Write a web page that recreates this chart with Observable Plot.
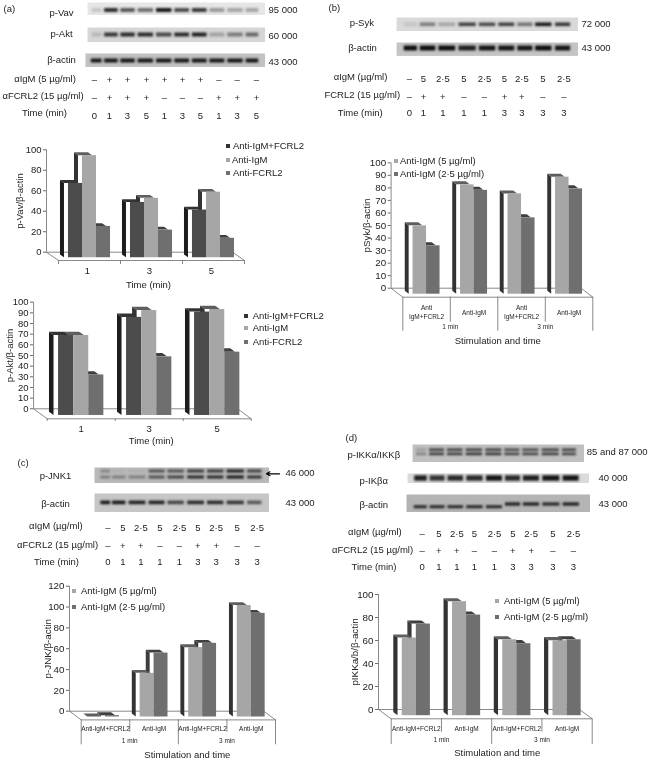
<!DOCTYPE html>
<html><head><meta charset="utf-8">
<script src="https://cdn.jsdelivr.net/npm/d3@7"></script>
<script src="https://cdn.jsdelivr.net/npm/@observablehq/plot@0.6"></script>
<style>
html,body{margin:0;padding:0;background:#fff}
#page{position:relative;width:648px;height:759px;overflow:hidden;font-family:"Liberation Sans",Arial,sans-serif;color:#222}
#page svg{position:absolute;display:block;max-width:none;filter:blur(.3px)}
.lg{position:absolute;font-size:9.5px;line-height:12px;white-space:nowrap;filter:blur(.3px)}
.sq{position:absolute;width:4px;height:4px}
</style></head><body><div id="page"></div>
<script>
// ---------- chart values ----------
const timeCats = ["1","3","5"];
const stimCats = ["Anti-IgM+FCRL2","Anti-IgM","Anti-IgM+FCRL2","Anti-IgM"];
const stimCatsB = ["Anti\nIgM+FCRL2","Anti-IgM","Anti\nIgM+FCRL2","Anti-IgM"];
const minutes = ["1 min","3 min"];
const vavCombo = [72.6,54,46.6], vavIgM = [99.7,58,64], vavFcrl2 = [30.6,27,19];
const aktCombo = [75,92,97], aktIgM = [75,98.4,99.4], aktFcrl2 = [38,55,59.4];
const sykHigh = [54.5,87.2,80,93.3], sykLow = [38.6,82.8,60.9,84];
const jnkHigh = [0,41.9,66.6,107], jnkLow = [1.3,61.4,70.7,99.5];
const ikkHigh = [67.5,99.1,66,65.2], ikkLow = [79.7,87.5,62.6,66];

// ---------- blot band strengths ----------
const vavBand = [.15,.85,.65,.55,.95,.7,.8,.35,.3,.3];
const aktBand = [.15,.8,.85,.85,.7,.85,.9,.25,.45,.55];
const actinA = [.95,.95,.95,.95,.95,.95,.95,.95,.95,.95];
const sykBand = [.1,.45,.25,.75,.7,.75,.5,.95,.8];
const actinB = [1,1,1,.9,.95,.95,.95,1,.95];
const jnkLower = [.35,.35,.35,.6,.7,.85,.85,.95,.8];
const jnkUpper = [.3,.05,.05,.6,.6,.75,.75,.9,.7];
const actinC = [.95,.95,.9,.9,.7,.85,.85,.8,.6];
const ikkUpper = [.2,.7,.7,.7,.7,.65,.65,.7,.7];
const ikkLower = [.35,.75,.75,.8,.8,.7,.7,.75,.7];
const ikbBand = [.9,.8,.85,.85,.95,.85,.9,.95,.95];
const actinD1 = [.85,.85,.85,.85,.85,0,0,0,0];
const actinD2 = [0,0,0,0,0,.9,.9,.85,.9];

// ---------- treatment rows ----------
const igmA = ["–","+","+","+","+","+","+","–","–","–"];
const fcrlA = ["–","+","+","+","–","–","–","+","+","+"];
const timeA = ["0","1","3","5","1","3","5","1","3","5"];
const igmDose = ["–","5","2·5","5","2·5","5","2·5","5","2·5"];
const fcrlDose = ["–","+","+","–","–","+","+","–","–"];
const timeDose = ["0","1","1","1","1","3","3","3","3"];

const page = document.getElementById("page");
const style = {background:"transparent",fontFamily:"Liberation Sans, Arial, sans-serif",fontSize:"9.5px",color:"#222"};
function place(node,left,top){node.style.left=left+"px";node.style.top=top+"px";page.appendChild(node);}

function gel(g){
  const w=g.x2-g.x1,h=g.y2-g.y1,n=g.lanes.length;
  const cells=g.bands.flatMap(b=>b.values.map((v,i)=>({lane:i,y:b.y,t:b.t,v})));
  place(Plot.plot({width:w,height:h,margin:0,style,
    x:{axis:null,type:"linear",domain:[-1,...d3.range(n),n],range:[0,...g.lanes.map(l=>l-g.x1),w]},
    y:{axis:null,domain:[g.y1,g.y2],range:[0,h]},
    opacity:{type:"identity"},
    marks:[Plot.frame({fill:g.fill,stroke:"none"}),
      Plot.rect(cells,{x1:d=>d.lane-.42,x2:d=>d.lane+.42,y1:d=>d.y-d.t/2,y2:d=>d.y+d.t/2,fill:"#0c0c0c",fillOpacity:"v",imageFilter:"blur(1.1px)"})]
  }),g.x1,g.y1);
}

function labels(p){
  const [l,t,w,h]=p.box;
  const row=(vals,y)=>vals.map((s,i)=>({x:p.lanes[i],y,s}));
  const cells=p.rows.flatMap(r=>row(r.values,r.y));
  const mid=p.notes.filter(d=>d.a!=="start"),st=p.notes.filter(d=>d.a==="start");
  place(Plot.plot({width:w,height:h,margin:0,style,
    x:{axis:null,domain:[l,l+w],range:[0,w]},y:{axis:null,domain:[t,t+h],range:[0,h]},
    marks:[
      Plot.text(cells,{x:"x",y:"y",text:"s",fontSize:9.5,fill:"#222"}),
      Plot.text(mid,{x:"x",y:"y",text:"s",fontSize:9.5,fill:"#222"}),
      Plot.text(st,{x:"x",y:"y",text:"s",textAnchor:"start",fontSize:9.5,fill:"#222"}),
      ...(p.arrow?[Plot.arrow([p.arrow],{x1:"x1",y1:"y",x2:"x2",y2:"y",bend:0,headLength:5,stroke:"#000",strokeWidth:1.2})]:[])
    ]}),l,t);
}

const tone={
  dark:{front:"#4c4c4c",side:"#1d1d1d",cap:"#333"},
  light:{front:"#a6a6a6",side:"#333",cap:"#5e5e5e"},
  mid:{front:"#6f6f6f",side:"#3c3c3c",cap:"#3f3f3f"}
};

function chart(c){
  const [l,t,w,h]=c.box, n=c.series[0].values.length, k=c.series.length;
  const [x0,x1]=c.front;
  const ux=d=>d*n/(x1-x0), uy=d=>d*c.max/(c.y0-c.yTop);
  const at=(y)=>(c.y0-y)*c.max/(c.y0-c.yTop);            // page row → value units
  const dx=d=>ux(c.fx*(d-1)), dy=d=>uy(c.fy*d);
  const m=(1-k*c.bar)/2, d1=1/3, d2=2/3;
  const bars=c.series.flatMap((s,si)=>s.values.map((v,g)=>({id:si+"-"+g,v,u1:g+m+si*c.bar,u2:g+m+(si+1)*c.bar,...tone[s.tone]})));
  const side=bars.flatMap(b=>[d1,d2].map(d=>({id:b.id,f:b.side,x:b.u1+dx(d),y1:-dy(d),y2:b.v-dy(d)})));
  const cap=bars.flatMap(b=>[d1,d2].map(d=>({id:b.id,f:b.cap,y:b.v-dy(d),x1:b.u1+dx(d),x2:b.u2+dx(d)})));
  const floor=[[dx(0),0],[0,-dy(1)],[n,-dy(1)],[n+dx(0),0],[dx(0),0]].map(([x,y])=>({x,y}));
  const axisU=dx(0);
  const lineC="#6b6b6b";
  const marks=[
    Plot.line(floor,{x:"x",y:"y",stroke:lineC,strokeWidth:.8}),
    Plot.ruleX([axisU],{y1:0,y2:c.max,stroke:lineC,strokeWidth:.8}),
    Plot.axisY(c.ticks,{anchor:"left",tickSize:3,tickPadding:2,fontSize:c.tickFont||9.5,stroke:lineC,fill:"#222",label:c.title,labelAnchor:"center",labelArrow:"none",labelOffset:c.titleOffset}),
    Plot.areaY(side,{x:"x",y1:"y1",y2:"y2",z:"id",fill:"f"}),
    Plot.areaX(cap,{y:"y",x1:"x1",x2:"x2",z:"id",fill:"f"}),
    Plot.rect(bars,{x1:"u1",x2:"u2",y1:d=>-dy(d2)*1,y2:d=>d.v-dy(d2),fill:"front",inset:0})
  ];
  // category axis
  if(c.cats){
    const ticks=d3.range(n+1);
    marks.push(Plot.ruleX(ticks,{y1:-dy(1),y2:at(c.tickEnd),stroke:lineC,strokeWidth:.8}));
    marks.push(Plot.text(c.cats.map((s,i)=>({s,i})),{x:d=>d.i+.5,y:at(c.catY),text:"s",fontSize:9.5,dx:c.catDx||0,fill:"#222"}));
  }
  if(c.stim){
    marks.push(Plot.ruleX(d3.range(0,n+1,2),{y1:-dy(1),y2:at(c.stim.outerEnd),stroke:lineC,strokeWidth:.8}));
    marks.push(Plot.ruleX(d3.range(1,n+1,2),{y1:-dy(1),y2:at(c.stim.innerEnd),stroke:lineC,strokeWidth:.8}));
    marks.push(Plot.text(c.stim.labels.map((s,i)=>({s,i})),{x:d=>d.i+.5,y:at(c.stim.y),text:"s",fontSize:c.stim.size,lineHeight:1.45,fill:"#222"}));
    marks.push(Plot.text(minutes.map((s,i)=>({s,i})),{x:d=>d.i*2+1,y:at(c.stim.minY),text:"s",fontSize:6.5,fill:"#222"}));
  }
  marks.push(Plot.text([c.xTitle],{x:(x1-x0+c.xTitleDx)/(x1-x0)*n/2,y:at(c.xTitleY),text:d=>d,fontSize:9.5,fill:"#222"}));
  place(Plot.plot({width:w,height:h,style,
    marginLeft:c.xBack-l,marginRight:0,marginTop:c.yTop-t,marginBottom:t+h-c.y0,
    x:{axis:null,domain:[0,n],range:[x0-l,x1-l]},
    y:{axis:null,domain:[0,c.max],range:[c.y0-t,c.yTop-t]},
    color:{type:"identity"},marks}),l,t);
  c.legend.forEach(d=>{
    const sq=document.createElement("div");sq.className="sq";sq.style.left=d.sq+"px";sq.style.top=(d.y-2)+"px";sq.style.background=tone[d.tone].front==="#4c4c4c"?"#333":tone[d.tone].front;page.appendChild(sq);
    const tx=document.createElement("div");tx.className="lg";tx.style.left=d.x+"px";tx.style.top=(d.y-6)+"px";tx.textContent=d.s;page.appendChild(tx);
  });
}

// ---------- panel (a) ----------
const lanesA=[95,110.7,127.3,145,164,181.7,199.3,216.7,235,253.3];
gel({x1:87,x2:265,y1:2,y2:15,fill:"#e6e6e6",lanes:lanesA,bands:[{y:10,t:4,values:vavBand}]});
gel({x1:87,x2:265,y1:27,y2:42,fill:"#d6d6d6",lanes:lanesA,bands:[{y:34.5,t:4,values:aktBand}]});
gel({x1:85,x2:265,y1:53,y2:67,fill:"#c2c2c2",lanes:lanesA,bands:[{y:60.5,t:4,values:actinA}]});
labels({box:[0,0,324,124],lanes:[94,109,127,146,164,182,200,218.3,236.7,256],
  rows:[{values:igmA,y:79},{values:fcrlA,y:97},{values:timeA,y:115}],
  notes:[{s:"(a)",x:3,y:8,a:"start"},{s:"p-Vav",x:61,y:12},{s:"p-Akt",x:61,y:33},{s:"β-actin",x:61,y:59},
    {s:"95 000",x:268,y:9,a:"start"},{s:"60 000",x:268,y:35,a:"start"},{s:"43 000",x:268,y:61,a:"start"},
    {s:"αIgM (5 µg/ml)",x:44.5,y:78},{s:"αFCRL2 (15 µg/ml)",x:42.5,y:95},{s:"Time (min)",x:44,y:112}]});
chart({box:[0,130,324,160],front:[58,244],xBack:46,y0:251.7,yTop:149.3,max:100,ticks:[0,20,40,60,80,100],fx:12,fy:8.3,bar:.226,
  series:[{values:vavCombo,tone:"dark"},{values:vavIgM,tone:"light"},{values:vavFcrl2,tone:"mid"}],
  title:"p-Vav/β-actin",titleOffset:30,cats:timeCats,catY:270,catDx:-2,tickEnd:264,xTitle:"Time (min)",xTitleY:284,xTitleDx:-6,
  legend:[{sq:226,x:233,y:146,s:"Anti-IgM+FCRL2",tone:"dark"},{sq:226,x:232,y:160,s:"Anti-IgM",tone:"light"},{sq:226,x:233,y:173,s:"Anti-FCRL2",tone:"mid"}]});
chart({box:[0,292,324,158],front:[46.7,250.7],xBack:33,y0:408.3,yTop:301.7,max:100,ticks:d3.range(0,101,10),fx:13.6,fy:10,bar:.222,
  series:[{values:aktCombo,tone:"dark"},{values:aktIgM,tone:"light"},{values:aktFcrl2,tone:"mid"}],
  title:"p-Akt/β-actin",titleOffset:27,cats:timeCats,catY:428,catDx:0,tickEnd:421,xTitle:"Time (min)",xTitleY:440,xTitleDx:4,
  legend:[{sq:244,x:252.7,y:316,s:"Anti-IgM+FCRL2",tone:"dark"},{sq:244,x:252.7,y:328,s:"Anti-IgM",tone:"light"},{sq:244,x:252.7,y:342,s:"Anti-FCRL2",tone:"mid"}]});

// ---------- panel (b) ----------
const lanesB=[409,427,446,467,487,506,525,542,564];
gel({x1:395.7,x2:578,y1:16.7,y2:30.7,fill:"#d9d9d9",lanes:lanesB,bands:[{y:24,t:3.6,values:sykBand}]});
gel({x1:395.7,x2:578,y1:42.3,y2:55.7,fill:"#c4c4c4",lanes:lanesB,bands:[{y:48.3,t:5,values:actinB}]});
labels({box:[324,0,324,124],lanes:[409,423,442.3,463.3,484,504,521.3,542.3,563.3],
  rows:[{values:igmDose,y:78},{values:fcrlDose,y:96},{values:timeDose,y:112}],
  notes:[{s:"(b)",x:328,y:7,a:"start"},{s:"p-Syk",x:361.3,y:22},{s:"β-actin",x:362,y:47},
    {s:"72 000",x:581,y:23,a:"start"},{s:"43 000",x:581,y:47,a:"start"},
    {s:"αIgM (µg/ml)",x:360,y:76},{s:"αFCRL2 (15 µg/ml)",x:359,y:94},{s:"Time (min)",x:359.7,y:112}]});
chart({box:[324,150,324,200],front:[402.3,592.3],xBack:390.7,y0:287.7,yTop:162.3,max:100,ticks:d3.range(0,101,10),fx:11.7,fy:9,bar:.284,tickFont:9.8,
  series:[{values:sykHigh,tone:"light"},{values:sykLow,tone:"mid"}],
  title:"pSyk/β-actin",titleOffset:27.7,xTitle:"Stimulation and time",xTitleY:340,xTitleDx:-0,
  stim:{labels:stimCatsB,size:6.5,y:311,minY:326,outerEnd:330.7,innerEnd:321.7},
  legend:[{sq:394,x:400,y:160.7,s:"Anti-IgM (5 µg/ml)",tone:"light"},{sq:394,x:400,y:174,s:"Anti-IgM (2·5 µg/ml)",tone:"mid"}]});

// ---------- panel (c) ----------
const lanesC=[105,117,137,157,175,196,215,235,256];
gel({x1:94,x2:269,y1:466.7,y2:482.7,fill:"#b9b9b9",lanes:lanesC,bands:[{y:476.7,t:3,values:jnkLower},{y:470.7,t:3,values:jnkUpper}]});
gel({x1:94,x2:269,y1:493.3,y2:512,fill:"#c6c6c6",lanes:lanesC,bands:[{y:502.7,t:3.6,values:actinC}]});
labels({box:[0,452,324,118],lanes:[107.3,122.3,140.3,159.3,179,197.3,215.7,236.7,256.7],
  rows:[{values:igmDose,y:527.3},{values:fcrlDose,y:545.7},{values:timeDose,y:561.7}],
  arrow:{x1:279,x2:266,y:473.3},
  notes:[{s:"(c)",x:17,y:462.7,a:"start"},{s:"p-JNK1",x:55,y:475},{s:"β-actin",x:55,y:503},
    {s:"46 000",x:285,y:472.7,a:"start"},{s:"43 000",x:285,y:502.7,a:"start"},
    {s:"αIgM (µg/ml)",x:55.3,y:525},{s:"αFCRL2 (15 µg/ml)",x:57,y:544},{s:"Time (min)",x:56,y:561.7}]});
chart({box:[0,575,324,184],front:[80.7,275],xBack:69,y0:710.7,yTop:585.7,max:120,ticks:d3.range(0,121,20),fx:11.7,fy:8.7,bar:.287,tickFont:9.8,
  series:[{values:jnkHigh,tone:"light"},{values:jnkLow,tone:"mid"}],
  title:"p-JNK/β-actin",titleOffset:25,xTitle:"Stimulation and time",xTitleY:754,xTitleDx:18,
  stim:{labels:stimCats,size:6.5,y:727.7,minY:740.7,outerEnd:744.3,innerEnd:731.7},
  legend:[{sq:72,x:81,y:590.7,s:"Anti-IgM (5 µg/ml)",tone:"light"},{sq:72,x:81,y:607.3,s:"Anti-IgM (2·5 µg/ml)",tone:"mid"}]});

// ---------- panel (d) ----------
const lanesD=[419,436.7,454.7,474,494,512.3,530,550.7,570.7];
gel({x1:412.3,x2:584,y1:444.3,y2:462.3,fill:"#c0c0c0",lanes:lanesD,bands:[{y:450,t:2.6,values:ikkUpper},{y:454.2,t:2.6,values:ikkLower}]});
gel({x1:406.7,x2:589,y1:472.7,y2:483.3,fill:"#dadada",lanes:lanesD,bands:[{y:477.7,t:5.5,values:ikbBand}]});
gel({x1:405.7,x2:589.7,y1:494,y2:512.3,fill:"#b4b4b4",lanes:lanesD,bands:[{y:506.7,t:3,values:actinD1},{y:504,t:3.2,values:actinD2}]});
labels({box:[324,432,324,143],lanes:[421.7,438.3,456.3,474,494,512.3,530.7,552.3,573],
  rows:[{values:igmDose,y:533.3},{values:fcrlDose,y:550.7},{values:timeDose,y:566.7}],
  notes:[{s:"(d)",x:345,y:437,a:"start"},{s:"p-IKKα/IKKβ",x:373.3,y:454},{s:"p-IKβα",x:373.3,y:480},{s:"β-actin",x:373.3,y:504},
    {s:"85 and 87 000",x:586.3,y:451,a:"start"},{s:"40 000",x:598,y:477.3,a:"start"},{s:"43 000",x:598,y:503.3,a:"start"},
    {s:"αIgM (µg/ml)",x:374.3,y:531.7},{s:"αFCRL2 (15 µg/ml)",x:372,y:549.3},{s:"Time (min)",x:373.5,y:566.7}]});
chart({box:[324,575,324,184],front:[390.7,591.7],xBack:378,y0:709,yTop:594,max:100,ticks:d3.range(0,101,20),fx:12.7,fy:9.3,bar:.28,tickFont:9.8,
  series:[{values:ikkHigh,tone:"light"},{values:ikkLow,tone:"mid"}],
  title:"pIKKa/b/β-actin",titleOffset:27,xTitle:"Stimulation and time",xTitleY:752.7,xTitleDx:11,
  stim:{labels:stimCats,size:6.5,y:727.3,minY:739.3,outerEnd:744,innerEnd:731.7},
  legend:[{sq:495,x:504,y:600.7,s:"Anti-IgM (5 µg/ml)",tone:"light"},{sq:495,x:504,y:617,s:"Anti-IgM (2·5 µg/ml)",tone:"mid"}]});
</script></body></html>
